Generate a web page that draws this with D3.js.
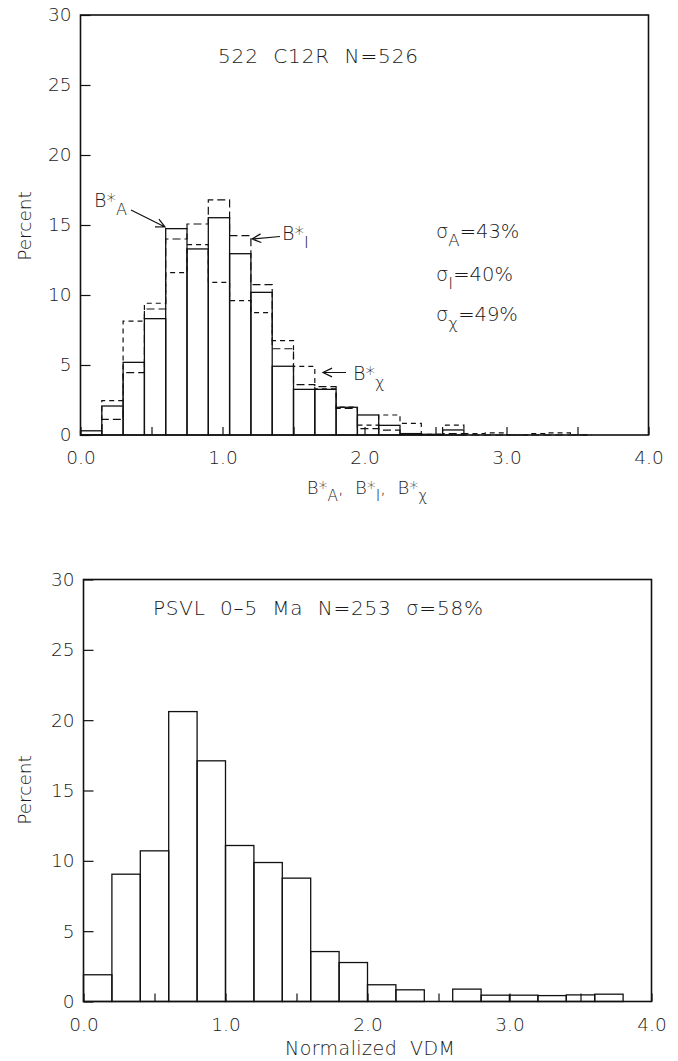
<!DOCTYPE html>
<html>
<head>
<meta charset="utf-8">
<script src="https://cdn.jsdelivr.net/npm/d3@7"></script>
<style>
  body { margin: 0; background: #fff; }
  svg { display: block; }
  text { font-family: "DejaVu Sans", "Open Sans", sans-serif; font-weight: 300; fill: #1a1a1a; }
</style>
</head>
<body>
<svg id="chart" width="678" height="1061"></svg>
<script>
// top panel, bins of 0.15 starting at 0
let topBinWidth = 0.15
let topA = [0.3, 2.07, 5.19, 8.31, 14.74, 13.29, 15.52, 12.95, 10.19, 4.91, 3.26, 3.26, 1.98, 1.43, 0.69, 0.1, 0.05, 0.36, 0, 0, 0, 0, 0, 0]
let topI = [0, 1.12, 4.45, 9.0, 14.0, 15.07, 16.8, 14.24, 10.74, 6.16, 3.6, 3.45, 1.9, 0.45, 0.35, 0.1, 0, 0.1, 0, 0, 0, 0, 0, 0]
let topChi = [0, 2.45, 8.14, 9.41, 11.6, 13.6, 10.9, 9.6, 8.74, 6.74, 4.9, 3.3, 2.0, 0.7, 1.43, 0.83, 0.05, 0.7, 0.1, 0.15, 0, 0.1, 0.15, 0]

// bottom panel, bins of 0.2 starting at 0
let bottomBinWidth = 0.2
let bottomVDM = [1.9, 9.05, 10.71, 20.61, 17.11, 11.09, 9.88, 8.77, 3.55, 2.77, 1.19, 0.83, 0, 0.88, 0.45, 0.45, 0.42, 0.47, 0.52]

let xTicks = [0, 0.5, 1, 1.5, 2, 2.5, 3, 3.5, 4]
let yTicks = [0, 5, 10, 15, 20, 25, 30]

const svg = d3.select('#chart')

function makePanel(left, right, top, bottom) {
  let x = d3.scaleLinear().domain([0, 4]).range([left, right])
  let y = d3.scaleLinear().domain([0, 30]).range([bottom, top])

  let g = svg.append('g')

  let yAxis = d3.axisLeft(y)
    .tickValues(yTicks)
    .tickSizeInner(-10)
    .tickSizeOuter(0)
    .tickPadding(9)
  g.append('g')
    .attr('transform', `translate(${left},0)`)
    .call(yAxis)
    .call(a => a.select('.domain').remove())

  let xAxis = d3.axisBottom(x)
    .tickValues(xTicks)
    .tickSizeInner(-8)
    .tickSizeOuter(0)
    .tickPadding(16)
    .tickFormat(d => d % 1 === 0 ? d.toFixed(1) : '')
  g.append('g')
    .attr('transform', `translate(0,${bottom})`)
    .call(xAxis)
    .call(a => a.select('.domain').remove())

  g.selectAll('.tick line').attr('stroke', '#111').attr('stroke-width', 1.2)
  g.selectAll('.tick text').style('font-size', '18.5px').attr('fill', '#1a1a1a')

  g.append('rect')
    .attr('x', left).attr('y', top)
    .attr('width', right - left).attr('height', bottom - top)
    .attr('fill', 'none').attr('stroke', '#111').attr('stroke-width', 1.6)

  return { g, x, y }
}

function drawBars(p, values, width) {
  p.g.append('g')
    .selectAll('rect')
    .data(values.map((v, i) => ({ x0: i * width, v })).filter(d => d.v > 0))
    .join('rect')
    .attr('x', d => p.x(d.x0))
    .attr('y', d => p.y(d.v))
    .attr('width', d => p.x(d.x0 + width) - p.x(d.x0))
    .attr('height', d => p.y(0) - p.y(d.v))
    .attr('fill', 'none')
    .attr('stroke', '#111')
    .attr('stroke-width', 1.3)
}

function drawStep(p, values, width, dash) {
  let pts = [[0, 0]]
  for (let i = 0; i < values.length; i++) {
    pts.push([i * width, values[i]])
    pts.push([(i + 1) * width, values[i]])
  }
  pts.push([values.length * width, 0])
  let line = d3.line().x(d => p.x(d[0])).y(d => p.y(d[1]))
  p.g.append('path')
    .attr('d', line(pts))
    .attr('fill', 'none')
    .attr('stroke', '#111')
    .attr('stroke-width', 1.2)
    .attr('stroke-dasharray', dash)
}

// text with subscripts, parts like [{t:'B*'}, {sub:'A'}]
function subText(g, x, y, parts, size, anchor) {
  let t = g.append('text').attr('x', x).attr('y', y)
    .style('font-size', size + 'px')
    .attr('text-anchor', anchor || 'start')
    .attr('xml:space', 'preserve')
  let shift = 0
  let down = Math.round(size * 0.4)
  parts.forEach(pt => {
    if (pt.sub) {
      t.append('tspan').attr('dy', down - shift).style('font-size', (size * 0.85) + 'px').text(pt.sub)
      shift = down
    } else {
      t.append('tspan').attr('dy', -shift).text(pt.t)
      shift = 0
    }
  })
  return t
}

function arrow(g, x1, y1, x2, y2) {
  // open arrowhead at (x2, y2)
  let ang = Math.atan2(y2 - y1, x2 - x1)
  let len = 10, spread = 0.45
  let path = d3.path()
  path.moveTo(x1, y1); path.lineTo(x2, y2)
  path.moveTo(x2 - len * Math.cos(ang - spread), y2 - len * Math.sin(ang - spread))
  path.lineTo(x2, y2)
  path.lineTo(x2 - len * Math.cos(ang + spread), y2 - len * Math.sin(ang + spread))
  g.append('path').attr('d', path.toString()).attr('fill', 'none').attr('stroke', '#111').attr('stroke-width', 1.2)
}

// ---- top panel
let p1 = makePanel(80.5, 648.5, 15, 435)
drawStep(p1, topChi, topBinWidth, '5,4')
drawStep(p1, topI, topBinWidth, '8,4')
drawBars(p1, topA, topBinWidth)

p1.g.append('text').attr('x', 218).attr('y', 63).style('font-size', '20px')
  .attr('xml:space', 'preserve')
  .attr('textLength', 200).attr('lengthAdjust', 'spacing')
  .text('522  C12R  N=526')

subText(p1.g, 436, 238, [{ t: 'σ' }, { sub: 'A' }, { t: '=43%' }], 19.5)
subText(p1.g, 436, 281, [{ t: 'σ' }, { sub: 'I' }, { t: '=40%' }], 19.5)
subText(p1.g, 436, 321, [{ t: 'σ' }, { sub: 'χ' }, { t: '=49%' }], 19.5)

subText(p1.g, 94, 207, [{ t: 'B*' }, { sub: 'A' }], 19)
arrow(p1.g, 131, 210, 165, 227)
subText(p1.g, 282, 240, [{ t: 'B*' }, { sub: 'I' }], 19)
arrow(p1.g, 280, 236.5, 252, 239)
subText(p1.g, 353, 380, [{ t: 'B*' }, { sub: 'χ' }], 19)
arrow(p1.g, 346, 372.5, 323, 372.5)

subText(p1.g, 367, 494, [{ t: 'B*' }, { sub: 'A' }, { t: ',  B*' }, { sub: 'I' }, { t: ',  B*' }, { sub: 'χ' }], 18, 'middle')

p1.g.append('text')
  .attr('transform', 'translate(31,226) rotate(-90)')
  .attr('text-anchor', 'middle')
  .style('font-size', '18.5px')
  .text('Percent')

// ---- bottom panel
let p2 = makePanel(83.5, 651.5, 579.5, 1001.5)
drawBars(p2, bottomVDM, bottomBinWidth)

p2.g.append('text').attr('x', 153).attr('y', 615).style('font-size', '20px')
  .attr('xml:space', 'preserve')
  .attr('textLength', 330).attr('lengthAdjust', 'spacing')
  .text('PSVL  0–5  Ma  N=253  σ=58%')

p2.g.append('text').attr('x', 370).attr('y', 1055)
  .attr('text-anchor', 'middle').style('font-size', '19px')
  .attr('xml:space', 'preserve')
  .attr('textLength', 170).attr('lengthAdjust', 'spacing')
  .text('Normalized  VDM')

p2.g.append('text')
  .attr('transform', 'translate(31,790) rotate(-90)')
  .attr('text-anchor', 'middle')
  .style('font-size', '18.5px')
  .text('Percent')
</script>
</body>
</html>
